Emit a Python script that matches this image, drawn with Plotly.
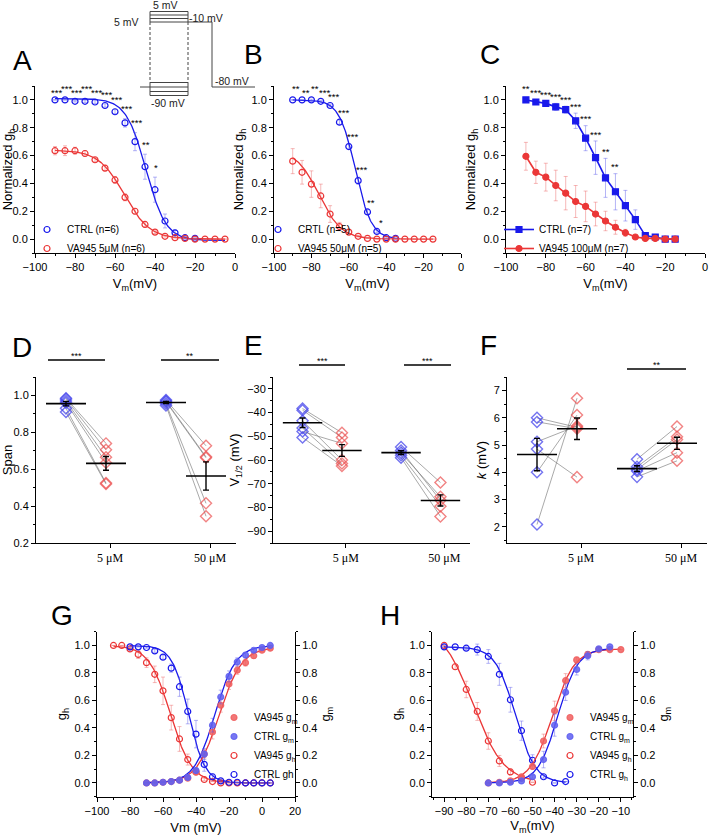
import numpy as np
import plotly.graph_objects as go

W, H = 709, 835
def fx(p): return p / W
def fy(p): return 1 - p / H

BLUE = "rgb(25,25,235)"
RED = "rgb(235,55,55)"
BLUE_ERR = "rgba(90,90,235,0.45)"
RED_ERR = "rgba(235,100,100,0.45)"
BLUE_FILL = "rgba(95,95,240,0.85)"
RED_FILL = "rgba(240,95,95,0.85)"
BLUE_D = "rgba(70,70,235,0.75)"
RED_D = "rgba(235,80,80,0.7)"
FONT = "Liberation Sans, Arial, sans-serif"
SERIF = "Liberation Serif, Times New Roman, serif"

# ================= DATA =================
# Panel A (5 uM)
A_ctrl_v = [-90, -85, -80, -75, -70, -65, -60, -55, -50, -45, -40, -35, -30, -25, -20]
A_ctrl = [1.0, 1.0, 0.99, 0.99, 0.985, 0.96, 0.915, 0.835, 0.70, 0.52, 0.355, 0.13, 0.045, 0.01, 0.005]
A_ctrl_err = [0, 0, 0.005, 0.008, 0.01, 0.012, 0.015, 0.03, 0.065, 0.09, 0.09, 0.05, 0.02, 0.01, 0.005]
A_drug_v = [-90, -85, -80, -75, -70, -65, -60, -55, -50, -45, -40, -35, -30, -25, -20, -15, -10, -5]
A_drug = [0.635, 0.635, 0.635, 0.615, 0.57, 0.51, 0.425, 0.30, 0.20, 0.105, 0.05, 0.02, 0.01, 0.005, 0.0, 0.0, 0.0, 0.0]
A_drug_err = [0.03, 0.035, 0.025, 0.02, 0.015, 0.02, 0.025, 0.025, 0.02, 0.02, 0.01, 0.005, 0, 0, 0, 0, 0, 0]
A_sig = ["***", "***", "***", "***", "***", "***", "***", "***", "***", "**", "*"]
A_ctrl_fit = dict(top=1.01, vh=-44.5, k=5.0, base=-0.01, lo=-90, hi=-5)
A_drug_fit = dict(top=0.64, vh=-55.4, k=6.4, base=0.0, lo=-90, hi=-5)

# Panel B (50 uM)
B_ctrl_v = [-90, -85, -80, -75, -70, -65, -60, -55, -50, -45, -40, -35]
B_ctrl = [1.0, 1.0, 1.0, 0.99, 0.96, 0.84, 0.665, 0.42, 0.195, 0.055, 0.01, 0.005]
B_ctrl_err = [0, 0, 0.005, 0.005, 0.01, 0.015, 0.02, 0.025, 0.015, 0.01, 0.005, 0]
B_drug_v = [-90, -85, -80, -75, -70, -65, -60, -55, -50, -45, -40, -35, -30, -25, -20, -15]
B_drug = [0.56, 0.48, 0.395, 0.31, 0.18, 0.09, 0.05, 0.02, 0.005, 0, 0, 0, 0, 0, 0, 0]
B_drug_err = [0.09, 0.085, 0.095, 0.085, 0.06, 0.03, 0.01, 0.005, 0, 0, 0, 0, 0, 0, 0, 0]
B_sig = ["**", "**", "**", "***", "***", "***", "***", "***", "**", "*"]
B_ctrl_fit = dict(top=1.0, vh=-56.5, k=4.3, base=0.0, lo=-90, hi=-33)
B_drug_fit = dict(top=0.64, vh=-76.0, k=6.0, base=0.0, lo=-90, hi=-15)

# Panel C (100 uM)
C_v = [-90, -85, -80, -75, -70, -65, -60, -55, -50, -45, -40, -35, -30, -25, -20, -15]
C_ctrl = [1.0, 0.985, 0.975, 0.95, 0.93, 0.85, 0.725, 0.585, 0.44, 0.34, 0.24, 0.14, 0.025, 0.015, 0.0, 0.0]
C_ctrl_err = [0, 0.01, 0.015, 0.025, 0.025, 0.055, 0.09, 0.12, 0.14, 0.13, 0.11, 0.07, 0.01, 0.005, 0, 0]
C_drug = [0.595, 0.48, 0.445, 0.385, 0.33, 0.27, 0.235, 0.18, 0.13, 0.085, 0.045, 0.015, 0.005, 0.005, 0.0, 0.0]
C_drug_err = [0.1, 0.08, 0.1, 0.11, 0.12, 0.115, 0.11, 0.085, 0.07, 0.05, 0.025, 0.01, 0.005, 0.005, 0, 0]
C_sig = ["**", "***", "***", "***", "***", "***", "***", "***", "**", "**"]

# Panels D-F: individual cells (CTRL vs VA945), 5 uM (n=6) and 50 uM (n=5)
conc_labels = ["5 \u03bcM", "50 \u03bcM"]
D_ctrl_5 = [0.985, 0.98, 0.97, 0.96, 0.93, 0.91]
D_drug_5 = [0.74, 0.705, 0.665, 0.635, 0.525, 0.52]
D_ctrl_50 = [0.975, 0.97, 0.965, 0.955, 0.945]
D_drug_50 = [0.727, 0.667, 0.662, 0.415, 0.345]
D_sig = ["***", "**"]

E_ctrl_5 = [-38.3, -39.0, -43.5, -46.5, -48.0, -50.5]
E_drug_5 = [-48.5, -50.5, -60.0, -61.5, -53.0, -62.5]
E_ctrl_50 = [-54.5, -56.0, -57.0, -58.0, -59.0]
E_drug_50 = [-69.5, -77.0, -75.5, -79.5, -83.8]
E_sig = ["***", "***"]

F_ctrl_5 = [6.0, 5.85, 5.12, 4.85, 4.0, 2.08]
F_drug_5 = [5.65, 5.6, 5.7, 3.82, 6.1, 6.72]
F_ctrl_50 = [4.48, 4.2, 4.1, 4.05, 3.83]
F_drug_50 = [5.68, 5.3, 5.2, 4.72, 4.42]
F_sig = ["", "**"]

# Panel G
G_h_drug_v = [-90, -85, -80, -75, -70, -65, -60, -55, -50, -45, -40, -35, -30, -25, -20, -15, -10, -5, 0, 5]
G_h_drug = [1.0, 1.0, 0.975, 0.935, 0.875, 0.79, 0.67, 0.475, 0.32, 0.17, 0.08, 0.025, 0.01, 0.0, 0.0, 0.0, 0.0, 0.0, 0.0, 0.0]
G_h_drug_err = [0, 0, 0.01, 0.03, 0.035, 0.06, 0.1, 0.09, 0.09, 0.04, 0.02, 0.01, 0, 0, 0, 0, 0, 0, 0, 0]
G_h_ctrl_v = [-80, -75, -70, -65, -60, -55, -50, -45, -40, -35, -30, -25, -20, -15, -10, -5, 0, 5]
G_h_ctrl = [0.99, 0.99, 0.985, 0.96, 0.915, 0.835, 0.70, 0.52, 0.355, 0.135, 0.045, 0.015, 0.005, 0.005, 0.0, 0.0, 0.0, 0.0]
G_h_ctrl_err = [0, 0, 0.005, 0.01, 0.015, 0.03, 0.07, 0.09, 0.1, 0.05, 0.02, 0.01, 0, 0, 0, 0, 0, 0]
G_m_v = [-70, -65, -60, -55, -50, -45, -40, -35, -30, -25, -20, -15, -10, -5, 0, 5]
G_m_drug = [0.0, 0.0, 0.005, 0.01, 0.02, 0.035, 0.08, 0.21, 0.37, 0.565, 0.72, 0.82, 0.875, 0.925, 0.965, 0.98]
G_m_drug_err = [0, 0, 0, 0, 0.005, 0.01, 0.02, 0.03, 0.05, 0.05, 0.04, 0.03, 0.025, 0.02, 0.01, 0.005]
G_m_ctrl = [0.0, 0.0, 0.005, 0.01, 0.02, 0.04, 0.09, 0.21, 0.42, 0.625, 0.775, 0.88, 0.93, 0.965, 0.985, 1.0]
G_m_ctrl_err = [0, 0, 0, 0, 0.005, 0.01, 0.02, 0.04, 0.05, 0.05, 0.04, 0.03, 0.02, 0.01, 0.005, 0]
G_h_drug_fit = dict(top=1.0, vh=-55.5, k=6.5, lo=-90, hi=5)
G_h_ctrl_fit = dict(top=1.0, vh=-44.5, k=5.0, lo=-80, hi=5)
G_m_drug_fit = dict(top=0.985, vh=-26.0, k=6.8, lo=-70, hi=5)
G_m_ctrl_fit = dict(top=1.0, vh=-28.5, k=6.3, lo=-70, hi=5)

# Panel H
H_h_drug_v = [-90, -85, -80, -75, -70, -65, -60, -55, -50]
H_h_drug = [1.0, 0.845, 0.68, 0.52, 0.305, 0.16, 0.08, 0.035, 0.005]
H_h_drug_err = [0, 0.02, 0.06, 0.065, 0.06, 0.04, 0.02, 0.01, 0]
H_h_ctrl_v = [-90, -85, -80, -75, -70, -65, -60, -55, -50, -45, -40, -35]
H_h_ctrl = [0.99, 0.99, 0.98, 0.97, 0.92, 0.79, 0.605, 0.38, 0.165, 0.045, 0.0, 0.01]
H_h_ctrl_err = [0, 0, 0.01, 0.04, 0.05, 0.08, 0.09, 0.07, 0.04, 0.01, 0, 0]
H_m_drug_v = [-70, -65, -60, -55, -50, -45, -40, -35, -30, -25, -20, -15, -10]
H_m_drug = [0.0, 0.005, 0.015, 0.045, 0.12, 0.305, 0.525, 0.745, 0.895, 0.935, 0.97, 0.97, 0.97]
H_m_drug_err = [0, 0, 0.005, 0.01, 0.02, 0.05, 0.07, 0.05, 0.02, 0.02, 0.01, 0.01, 0]
H_m_ctrl_v = [-70, -65, -60, -55, -50, -45, -40, -35, -30, -25, -20, -15]
H_m_ctrl = [0.0, 0.0, 0.005, 0.015, 0.045, 0.17, 0.42, 0.66, 0.825, 0.925, 0.975, 0.99]
H_m_ctrl_err = [0, 0, 0, 0.005, 0.01, 0.06, 0.08, 0.06, 0.04, 0.03, 0.01, 0]
H_h_drug_fit = dict(top=1.15, vh=-77.0, k=7.0, lo=-90, hi=-50)
H_h_ctrl_fit = dict(top=0.99, vh=-57.8, k=4.5, lo=-90, hi=-35)
H_m_drug_fit = dict(top=0.975, vh=-41.0, k=5.0, lo=-70, hi=-10)
H_m_ctrl_fit = dict(top=0.98, vh=-38.5, k=4.5, lo=-70, hi=-15)

G_TICKS = [0.0, 0.2, 0.4, 0.6, 0.8, 1.0]

# ================= HELPERS =================
def inact(p):
    v = np.linspace(p["lo"], p["hi"], 200)
    base = p.get("base", 0.0)
    return v, base + (p["top"] - base) / (1 + np.exp((v - p["vh"]) / p["k"]))

def act(p):
    v = np.linspace(p["lo"], p["hi"], 200)
    return v, p["top"] / (1 + np.exp((p["vh"] - v) / p["k"]))

fig = go.Figure()
ann = []
shp = []

def fit_line(curve, color, xa, ya):
    v, g = curve
    fig.add_trace(go.Scatter(x=v, y=g, mode="lines", line=dict(color=color, width=1.3),
                             xaxis=xa, yaxis=ya, showlegend=False, hoverinfo="skip"))

def pts(v, y, err, color, ecolor, symbol, xa, ya, name=None, legend=None, mode="markers", size=6):
    kw = {}
    if legend:
        kw["legend"] = legend
    fig.add_trace(go.Scatter(
        x=v, y=y, mode=mode, name=name, showlegend=bool(name),
        marker=dict(symbol=symbol, size=size, color=color, line=dict(width=1.2, color=color)),
        line=dict(color=color, width=1.6),
        error_y=dict(type="data", array=err, color=ecolor, thickness=1, width=2),
        xaxis=xa, yaxis=ya, **kw))

STAR_FONT = dict(family=FONT, size=9.5, color="black")

def stars(v, vals, errs, labels, dx, dy, xr, yr, first_high=False):
    for i, lab in enumerate(labels):
        y = vals[i] + errs[i] + dy
        if y > 1.042:
            high = (i % 2 == 0) if first_high else (i % 2 == 1)
            y = 1.085 if high else 1.05
        ann.append(dict(x=v[i] + dx, y=y, xref=xr, yref=yr, text=lab, showarrow=False,
                        font=STAR_FONT, xanchor="center", yanchor="middle"))

# ---- A ----
fit_line(inact(A_ctrl_fit), BLUE, "x", "y")
fit_line(inact(A_drug_fit), RED, "x", "y")
pts(A_ctrl_v, A_ctrl, A_ctrl_err, BLUE, BLUE_ERR, "circle-open", "x", "y", "CTRL (n=6)", "legend")
pts(A_drug_v, A_drug, A_drug_err, RED, RED_ERR, "circle-open", "x", "y", "VA945 5\u03bcM (n=6)", "legend")
stars(A_ctrl_v, A_ctrl, A_ctrl_err, A_sig, 0.5, 0.07, "x", "y")

# ---- B ----
fit_line(inact(B_ctrl_fit), BLUE, "x2", "y2")
fit_line(inact(B_drug_fit), RED, "x2", "y2")
pts(B_ctrl_v, B_ctrl, B_ctrl_err, BLUE, BLUE_ERR, "circle-open", "x2", "y2", "CRTL (n=5)", "legend2")
pts(B_drug_v, B_drug, B_drug_err, RED, RED_ERR, "circle-open", "x2", "y2", "VA945 50\u03bcM (n=5)", "legend2")
stars(B_ctrl_v, B_ctrl, B_ctrl_err, B_sig, 2.0, 0.055, "x2", "y2", first_high=True)

# ---- C ----
pts(C_v, C_ctrl, C_ctrl_err, BLUE, BLUE_ERR, "square", "x3", "y3", "CTRL (n=7)", "legend3", mode="lines+markers", size=6)
pts(C_v, C_drug, C_drug_err, RED, RED_ERR, "circle", "x3", "y3", "VA945 100\u03bcM (n=7)", "legend3", mode="lines+markers", size=6)
stars(C_v, C_ctrl, C_ctrl_err, C_sig, 0.0, 0.05, "x3", "y3", first_high=True)

# ---- D, E, F ----
XC = [0.75, 3.25]
XD = [1.75, 4.25]

def paired(xa, ya, ctrl, drug, xc, xd):
    for c, d in zip(ctrl, drug):
        fig.add_trace(go.Scatter(x=[xc, xd], y=[c, d], mode="lines",
                                 line=dict(color="rgba(110,110,110,0.75)", width=0.8),
                                 xaxis=xa, yaxis=ya, showlegend=False, hoverinfo="skip"))
    fig.add_trace(go.Scatter(x=[xc] * len(ctrl), y=ctrl, mode="markers", showlegend=False,
                             marker=dict(symbol="diamond-open", size=8.5, color=BLUE_D, line=dict(width=1.4, color=BLUE_D)),
                             xaxis=xa, yaxis=ya))
    fig.add_trace(go.Scatter(x=[xd] * len(drug), y=drug, mode="markers", showlegend=False,
                             marker=dict(symbol="diamond-open", size=8.5, color=RED_D, line=dict(width=1.4, color=RED_D)),
                             xaxis=xa, yaxis=ya))
    for pos, arr in ((xc, ctrl), (xd, drug)):
        m = float(np.mean(arr))
        sem = float(np.std(arr, ddof=1) / np.sqrt(len(arr)))
        fig.add_trace(go.Scatter(x=[pos - 0.5, pos + 0.5], y=[m, m], mode="lines",
                                 line=dict(color="black", width=1.6), xaxis=xa, yaxis=ya,
                                 showlegend=False, hoverinfo="skip"))
        fig.add_trace(go.Scatter(x=[pos], y=[m], mode="markers", marker=dict(size=1, color="black"),
                                 error_y=dict(type="data", array=[sem], color="black", thickness=1.4, width=3),
                                 xaxis=xa, yaxis=ya, showlegend=False))

paired("x4", "y4", D_ctrl_5, D_drug_5, XC[0], XD[0])
paired("x4", "y4", D_ctrl_50, D_drug_50, XC[1], XD[1])
paired("x5", "y5", E_ctrl_5, E_drug_5, XC[0], XD[0])
paired("x5", "y5", E_ctrl_50, E_drug_50, XC[1], XD[1])
paired("x6", "y6", F_ctrl_5, F_drug_5, XC[0], XD[0])
paired("x6", "y6", F_ctrl_50, F_drug_50, XC[1], XD[1])

def sigbar(x0, x1, ypx, label):
    if not label:
        return
    shp.append(dict(type="line", xref="paper", yref="paper", x0=fx(x0), x1=fx(x1), y0=fy(ypx), y1=fy(ypx),
                    line=dict(color="black", width=1.3)))
    ann.append(dict(x=fx((x0 + x1) / 2), y=fy(ypx - 4), xref="paper", yref="paper", text=label, showarrow=False,
                    font=dict(family=FONT, size=9, color="black"), xanchor="center", yanchor="middle"))

sigbar(48, 105, 360, D_sig[0]); sigbar(161, 219, 360, D_sig[1])
sigbar(299, 345, 365, E_sig[0]); sigbar(404, 451, 365, E_sig[1])
sigbar(0, 0, 369, F_sig[0]); sigbar(627, 686, 369, F_sig[1])

# ---- G ----
fit_line(act(G_m_drug_fit), RED, "x7", "y8")
fit_line(act(G_m_ctrl_fit), BLUE, "x7", "y8")
fit_line(inact(G_h_drug_fit), RED, "x7", "y7")
fit_line(inact(G_h_ctrl_fit), BLUE, "x7", "y7")
pts(G_m_v, G_m_drug, G_m_drug_err, RED_FILL, RED_ERR, "circle", "x7", "y8", "VA945 g<sub>m</sub>", "legend4")
pts(G_m_v, G_m_ctrl, G_m_ctrl_err, BLUE_FILL, BLUE_ERR, "circle", "x7", "y8", "CTRL g<sub>m</sub>", "legend4")
pts(G_h_drug_v, G_h_drug, G_h_drug_err, RED, RED_ERR, "circle-open", "x7", "y7", "VA945 g<sub>h</sub>", "legend4")
pts(G_h_ctrl_v, G_h_ctrl, G_h_ctrl_err, BLUE, BLUE_ERR, "circle-open", "x7", "y7", "CTRL gh", "legend4")

# ---- H ----
fit_line(act(H_m_drug_fit), RED, "x8", "y10")
fit_line(act(H_m_ctrl_fit), BLUE, "x8", "y10")
fit_line(inact(H_h_drug_fit), RED, "x8", "y9")
fit_line(inact(H_h_ctrl_fit), BLUE, "x8", "y9")
pts(H_m_drug_v, H_m_drug, H_m_drug_err, RED_FILL, RED_ERR, "circle", "x8", "y10", "VA945 g<sub>m</sub>", "legend5")
pts(H_m_ctrl_v, H_m_ctrl, H_m_ctrl_err, BLUE_FILL, BLUE_ERR, "circle", "x8", "y10", "CTRL g<sub>m</sub>", "legend5")
pts(H_h_drug_v, H_h_drug, H_h_drug_err, RED, RED_ERR, "circle-open", "x8", "y9", "VA945 g<sub>h</sub>", "legend5")
pts(H_h_ctrl_v, H_h_ctrl, H_h_ctrl_err, BLUE, BLUE_ERR, "circle-open", "x8", "y9", "CTRL g<sub>h</sub>", "legend5")

# ================= AXES =================
TICKF = dict(family=FONT, size=11, color="black")
def base_axis(**kw):
    d = dict(showline=True, linecolor="black", linewidth=1, ticks="outside", ticklen=4, tickwidth=1,
             tickcolor="black", showgrid=False, zeroline=False, tickfont=TICKF, automargin=False,
             title_font=dict(family=FONT, size=13, color="black"))
    d.update(kw)
    return d

MINOR = lambda dt, t0=0: dict(ticks="outside", ticklen=2, tickcolor="black", dtick=dt, tick0=t0, showgrid=False)

row1_y = [fy(253), fy(86)]
row2_y = [fy(543), fy(377)]
row3_y = [fy(796.7), fy(631.7)]

def vx(px0, px1, anchor, title):
    return base_axis(domain=[fx(px0), fx(px1)], anchor=anchor, range=[-100, 0], dtick=20, tick0=-100,
                     minor=MINOR(10), title=dict(text=title, standoff=6))

def gy(anchor, title, dom, side="left", overlay=None):
    d = base_axis(anchor=anchor, range=[-0.1, 1.1], tickmode="array", tickvals=G_TICKS,
                  ticktext=["%.1f" % t for t in G_TICKS],
                  minor=dict(ticks="outside", ticklen=2, tickcolor="black", tickmode="linear", dtick=0.1, tick0=0),
                  title=dict(text=title, standoff=4), side=side)
    if overlay:
        d["overlaying"] = overlay
    else:
        d["domain"] = dom
    return d

def cat_x(px0, px1, anchor):
    return base_axis(domain=[fx(px0), fx(px1)], anchor=anchor, range=[0, 5], tickvals=[1.85, 4.35],
                     ticktext=conc_labels, tickfont=dict(family=SERIF, size=12, color="black"))

layout = dict(
    width=W, height=H, margin=dict(l=0, r=0, t=0, b=0), paper_bgcolor="white", plot_bgcolor="white",
    font=dict(family=FONT, size=11, color="black"),
    xaxis=vx(35, 235, "y", "V<sub>m</sub>(mV)"),
    yaxis=gy("x", "Normalized g<sub>h</sub>", row1_y),
    xaxis2=vx(274, 461, "y2", "V<sub>m</sub>(mV)"),
    yaxis2=gy("x2", "Normalized g<sub>h</sub>", row1_y),
    xaxis3=vx(506, 705, "y3", "V<sub>m</sub>(mV)"),
    yaxis3=gy("x3", "Normalized g<sub>h</sub>", row1_y),
    xaxis4=cat_x(36, 236, "y4"),
    yaxis4=base_axis(domain=row2_y, anchor="x4", range=[0.2, 1.1], dtick=0.2, tick0=0.2, tickformat=".1f",
                     minor=MINOR(0.1), title=dict(text="Span", standoff=4)),
    xaxis5=cat_x(273, 470, "y5"),
    yaxis5=base_axis(domain=row2_y, anchor="x5", range=[-95, -25], dtick=10, tick0=-30,
                     minor=MINOR(5), title=dict(text="V<sub>1/2</sub> (mV)", standoff=4)),
    xaxis6=cat_x(507, 707, "y6"),
    yaxis6=base_axis(domain=row2_y, anchor="x6", range=[1.4, 7.5], dtick=1, tick0=2,
                     minor=MINOR(0.5), title=dict(text="<i>k</i> (mV)", standoff=4)),
    xaxis7=base_axis(domain=[fx(97), fx(295)], anchor="y7", range=[-100, 20], dtick=20, tick0=-100,
                     minor=MINOR(10), title=dict(text="Vm (mV)", standoff=6)),
    yaxis7=gy("x7", "g<sub>h</sub>", row3_y),
    yaxis8=gy("x7", "g<sub>m</sub>", None, side="right", overlay="y7"),
    xaxis8=base_axis(domain=[fx(432), fx(633)], anchor="y9", range=[-95.5, -4.5], dtick=10, tick0=-90,
                     minor=MINOR(5, -95), title=dict(text="V<sub>m</sub>(mV)", standoff=6)),
    yaxis9=gy("x8", "g<sub>h</sub>", row3_y),
    yaxis10=gy("x8", "g<sub>m</sub>", None, side="right", overlay="y9"),
)

def leg(xpx, ypx):
    return dict(x=fx(xpx), y=fy(ypx), xanchor="left", yanchor="top", bgcolor="rgba(0,0,0,0)",
                borderwidth=0, font=dict(family=FONT, size=10, color="black"), tracegroupgap=0,
                itemwidth=30, itemsizing="trace")

layout["legend"] = leg(27, 215)
layout["legend2"] = leg(258, 215)
layout["legend3"] = leg(499, 215)
layout["legend4"] = leg(214, 703)
layout["legend5"] = leg(550, 703)

# ---- panel letters ----
for lab, x, y in [("A", 22, 60), ("B", 253, 55), ("C", 490, 55), ("D", 22, 347), ("E", 253, 345),
                  ("F", 488, 345), ("G", 62, 615), ("H", 390, 615)]:
    ann.append(dict(x=fx(x), y=fy(y), xref="paper", yref="paper", text=lab, showarrow=False,
                    font=dict(family=FONT, size=28, color="black"), xanchor="center", yanchor="middle"))

# ---- voltage protocol inset ----
PC = "#444"
def pline(x0, y0, x1, y1, dash="solid"):
    shp.append(dict(type="line", xref="paper", yref="paper", x0=fx(x0), y0=fy(y0), x1=fx(x1), y1=fy(y1),
                    line=dict(color=PC, width=1, dash=dash)))
for yy in (11.5, 15, 18.5, 22):
    pline(150, yy, 188, yy)
for yy in (82.5, 87, 91.5, 95.5):
    pline(150, yy, 188, yy)
pline(140, 87, 150, 87)
for xx in (150, 188):
    pline(xx, 11.5, xx, 22)
    pline(xx, 82.5, xx, 95.5)
    pline(xx, 22, xx, 82.5, dash="3px,2px")
pline(188, 22, 212, 22)
pline(212, 22, 212, 87)
pline(212, 87, 255, 87)
for txt, x, y in [("5 mV", 165, 5), ("5 mV", 126, 22), ("-10 mV", 206, 18), ("-80 mV", 232, 81), ("-90 mV", 168, 103)]:
    ann.append(dict(x=fx(x), y=fy(y), xref="paper", yref="paper", text=txt, showarrow=False,
                    font=dict(family=FONT, size=10.5, color="#222"), xanchor="center", yanchor="middle"))

layout["annotations"] = ann
layout["shapes"] = shp
fig.update_layout(**layout)
fig.write_html("out.html")
